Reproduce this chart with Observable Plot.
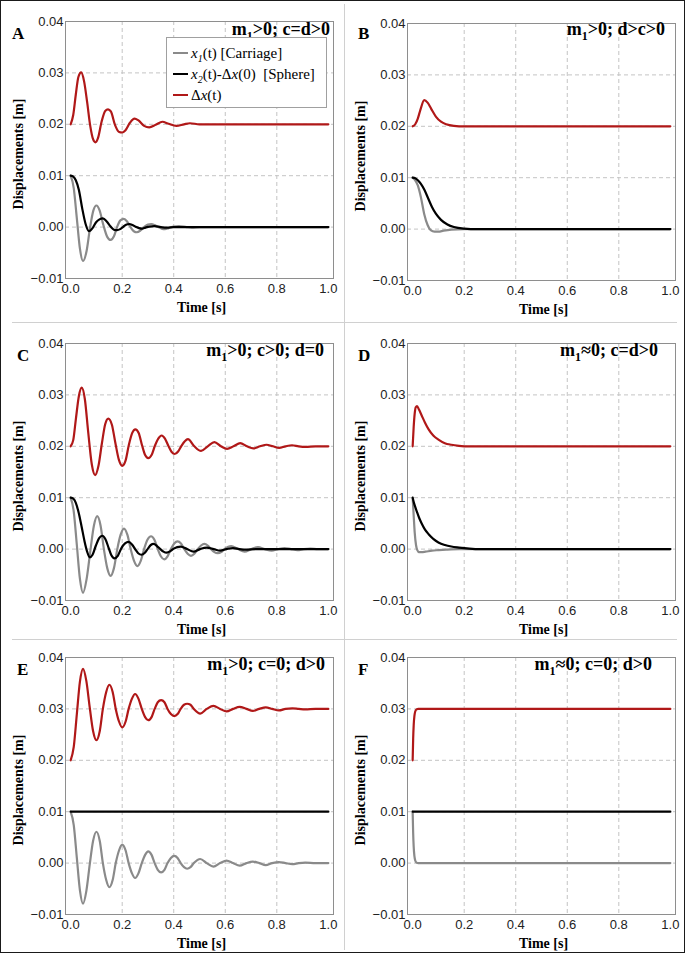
<!DOCTYPE html>
<html><head><meta charset="utf-8">
<script src="https://cdn.jsdelivr.net/npm/d3@7"></script>
<script src="https://cdn.jsdelivr.net/npm/@observablehq/plot@0.6"></script>
<style>
html,body{margin:0;padding:0;background:#fff;}
#page{position:relative;width:685px;height:954px;overflow:hidden;background:#fff;}
.abs{position:absolute;}
.serif{font-family:"Liberation Serif","Times New Roman",serif;}
.letter{font-weight:bold;font-size:17px;line-height:normal;white-space:nowrap;}
.title{font-weight:bold;font-size:18px;line-height:normal;white-space:nowrap;}
.title .sb{font-size:12px;position:relative;top:5px;}
.legend{background:#fff;border:1px solid #a0a0a0;box-sizing:border-box;}
.lrow{position:absolute;left:0;height:0;}
.sw{position:absolute;left:6px;top:-1px;width:15px;height:2.2px;}
.lt{position:absolute;left:24px;top:-10px;line-height:20px;font-size:15px;white-space:nowrap;}
.lt .sb{font-size:10px;font-style:italic;position:relative;top:4px;}
</style></head>
<body><div id="page"></div>
<script>
// ---------- axis values ----------
const xTicks = [0, 0.2, 0.4, 0.6, 0.8, 1.0];
const yTicks = [-0.01, 0, 0.01, 0.02, 0.03, 0.04];
const xGridVals = [0.2, 0.4, 0.6, 0.8];
const yGridVals = [0, 0.01, 0.02, 0.03];
const panelLetters = ["A", "B", "C", "D", "E", "F"];
const titleRest = [">0; c=d>0", ">0; d>c>0", ">0; c>0; d=0", "≈0; c=d>0", ">0; c=0; d>0", "≈0; c=0; d>0"];
const xLabel = "Time [s]";
const yLabel = "Displacements [m]";

// ---------- series: [time s, displacement m] ----------
const A_carriage = [[0,0.01],[0.012,0.0076],[0.024,0.0017],[0.036,-0.0042],[0.048,-0.0066],[0.062,-0.0046],[0.075,-0.0002],[0.088,0.0032],[0.1,0.0042],[0.112,0.0033],[0.127,0.0004],[0.142,-0.0019],[0.155,-0.0025],[0.168,-0.0018],[0.18,0],[0.193,0.0013],[0.206,0.0016],[0.219,0.0011],[0.232,0],[0.245,-0.0008],[0.257,-0.001],[0.27,-0.0007],[0.285,0],[0.3,0.0005],[0.313,0.0006],[0.326,0.0004],[0.34,0],[0.353,-0.0003],[0.366,-0.0004],[0.38,-0.0002],[0.4,0.0001],[0.42,0.0002],[0.45,0],[0.47,-0.0001],[0.5,0],[1,0]];
const A_sphere = [[0,0.01],[0.01,0.0098],[0.02,0.0091],[0.032,0.0072],[0.045,0.0036],[0.058,0.0006],[0.071,-0.0008],[0.085,-0.0002],[0.098,0.0009],[0.112,0.0015],[0.125,0.0017],[0.14,0.0011],[0.155,0.0001],[0.168,-0.0005],[0.18,-0.0006],[0.192,-0.0004],[0.205,0.0001],[0.217,0.0005],[0.228,0.0006],[0.24,0.0004],[0.255,0],[0.265,-0.0002],[0.277,-0.0003],[0.29,-0.0001],[0.305,0.0001],[0.325,0.0002],[0.35,0],[0.375,-0.0001],[0.4,0],[1,0]];
const A_delta = [[0,0.02],[0.01,0.0218],[0.02,0.0258],[0.03,0.0292],[0.041,0.0301],[0.052,0.0284],[0.064,0.0243],[0.076,0.0197],[0.087,0.0171],[0.096,0.0165],[0.106,0.0173],[0.12,0.0205],[0.134,0.0226],[0.145,0.0229],[0.156,0.0225],[0.172,0.0199],[0.188,0.0185],[0.2,0.0184],[0.212,0.0188],[0.23,0.0203],[0.248,0.0211],[0.262,0.0208],[0.285,0.0197],[0.305,0.0194],[0.33,0.0199],[0.356,0.0205],[0.38,0.0201],[0.41,0.0197],[0.44,0.02],[0.463,0.0202],[0.5,0.02],[1,0.02]];

const B_carriage = [[0,0.01],[0.01,0.0095],[0.02,0.0085],[0.032,0.0062],[0.045,0.0029],[0.058,0.0008],[0.07,-0.0002],[0.085,-0.0005],[0.1,-0.0005],[0.12,-0.0003],[0.15,-0.0001],[0.2,0],[1,0]];
const B_sphere = [[0,0.01],[0.01,0.0099],[0.02,0.0095],[0.032,0.0088],[0.045,0.0077],[0.06,0.006],[0.075,0.0043],[0.09,0.003],[0.11,0.0018],[0.135,0.0009],[0.16,0.0004],[0.2,0.0001],[0.25,0],[1,0]];
const B_delta = [[0,0.02],[0.01,0.0204],[0.02,0.0215],[0.03,0.0232],[0.045,0.0251],[0.058,0.0246],[0.072,0.0234],[0.09,0.0219],[0.11,0.0209],[0.13,0.0204],[0.16,0.0201],[0.2,0.02],[1,0.02]];

const C_carriage = [[0,0.01],[0.012,0.0073],[0.024,0.0008],[0.036,-0.0058],[0.048,-0.0085],[0.062,-0.0058],[0.076,-0.0005],[0.09,0.0045],[0.103,0.0064],[0.116,0.0046],[0.129,0],[0.142,-0.0037],[0.155,-0.0052],[0.168,-0.0037],[0.181,0],[0.194,0.0028],[0.207,0.004],[0.22,0.0028],[0.233,0],[0.246,-0.0023],[0.259,-0.0033],[0.272,-0.0023],[0.285,0],[0.298,0.0018],[0.312,0.0025],[0.325,0.0018],[0.338,0],[0.35,-0.0014],[0.363,-0.002],[0.376,-0.0014],[0.389,0],[0.402,0.0011],[0.415,0.0015],[0.428,0.0011],[0.441,0],[0.454,-0.0009],[0.467,-0.0013],[0.48,-0.0009],[0.493,0],[0.506,0.0007],[0.519,0.001],[0.532,0.0007],[0.545,0],[0.558,-0.0006],[0.571,-0.0008],[0.584,-0.0006],[0.597,0],[0.623,0.0006],[0.649,0],[0.675,-0.0005],[0.701,0],[0.727,0.0004],[0.753,0],[0.78,-0.0003],[0.805,0],[0.83,0.0002],[0.855,0],[0.88,-0.0002],[0.905,0],[0.93,0.0001],[0.96,0],[1,0]];
const C_sphere = [[0,0.01],[0.01,0.0098],[0.02,0.009],[0.03,0.0073],[0.042,0.0045],[0.054,0.0015],[0.064,-0.0005],[0.074,-0.0016],[0.085,-0.0011],[0.098,0.0007],[0.11,0.0021],[0.123,0.0026],[0.135,0.0019],[0.147,0.0003],[0.158,-0.0012],[0.17,-0.0018],[0.183,-0.0013],[0.197,0.0002],[0.211,0.0011],[0.225,0.0014],[0.238,0.0009],[0.25,0],[0.262,-0.0008],[0.275,-0.0011],[0.288,-0.0007],[0.3,0.0001],[0.311,0.0008],[0.322,0.001],[0.335,0.0006],[0.348,0],[0.36,-0.0005],[0.373,-0.0007],[0.387,-0.0004],[0.4,0.0001],[0.427,0.0005],[0.452,0],[0.477,-0.0005],[0.502,0],[0.528,0.0003],[0.555,0],[0.58,-0.0003],[0.605,0],[0.63,0.0002],[0.655,0],[0.68,-0.0001],[0.72,0],[1,0]];
const C_delta = [[0,0.02],[0.01,0.0212],[0.02,0.0252],[0.032,0.0298],[0.043,0.0314],[0.055,0.0292],[0.068,0.0228],[0.082,0.0165],[0.095,0.0144],[0.108,0.0162],[0.121,0.0205],[0.134,0.0243],[0.146,0.0254],[0.16,0.0242],[0.173,0.0208],[0.187,0.0174],[0.2,0.0162],[0.213,0.0172],[0.226,0.0203],[0.239,0.0226],[0.251,0.0233],[0.264,0.0226],[0.277,0.0202],[0.289,0.0183],[0.301,0.0177],[0.314,0.0183],[0.327,0.0201],[0.34,0.0215],[0.353,0.0221],[0.366,0.0215],[0.379,0.0201],[0.392,0.0189],[0.404,0.0185],[0.417,0.019],[0.43,0.0201],[0.443,0.021],[0.455,0.0214],[0.48,0.02],[0.506,0.0191],[0.532,0.02],[0.558,0.0208],[0.583,0.02],[0.607,0.0195],[0.632,0.02],[0.658,0.0206],[0.684,0.02],[0.709,0.0196],[0.735,0.02],[0.76,0.0203],[0.785,0.02],[0.809,0.0197],[0.834,0.02],[0.859,0.0202],[0.885,0.02],[0.912,0.0199],[0.95,0.02],[1,0.02]];

const D_carriage = [[0,0.01],[0.004,0.0065],[0.008,0.0032],[0.013,0.0008],[0.018,-0.0002],[0.025,-0.0006],[0.035,-0.0006],[0.05,-0.0005],[0.075,-0.0003],[0.1,-0.0002],[0.13,-0.0001],[0.18,0],[1,0]];
const D_sphere = [[0,0.01],[0.005,0.009],[0.01,0.0082],[0.017,0.0072],[0.025,0.0061],[0.035,0.005],[0.048,0.0038],[0.062,0.0029],[0.08,0.002],[0.1,0.0013],[0.125,0.0008],[0.15,0.0005],[0.18,0.0003],[0.22,0.0001],[0.26,0],[1,0]];
const D_delta = [[0,0.02],[0.004,0.0238],[0.008,0.0264],[0.012,0.0276],[0.017,0.0278],[0.024,0.0272],[0.035,0.026],[0.048,0.0246],[0.062,0.0233],[0.08,0.0221],[0.1,0.0213],[0.125,0.0206],[0.15,0.0203],[0.18,0.0201],[0.22,0.02],[1,0.02]];

const E_carriage = [[0,0.01],[0.012,0.0074],[0.024,0.001],[0.036,-0.0053],[0.048,-0.0079],[0.061,-0.0054],[0.074,-0.0003],[0.087,0.0043],[0.1,0.0061],[0.113,0.0043],[0.125,0],[0.138,-0.0033],[0.15,-0.0047],[0.163,-0.0033],[0.175,0],[0.188,0.0025],[0.2,0.0036],[0.213,0.0025],[0.225,0],[0.238,-0.002],[0.25,-0.0029],[0.263,-0.002],[0.276,0],[0.289,0.0016],[0.301,0.0023],[0.314,0.0016],[0.326,0],[0.338,-0.0013],[0.351,-0.0018],[0.364,-0.0013],[0.376,0],[0.389,0.001],[0.402,0.0014],[0.415,0.001],[0.427,0],[0.44,-0.0008],[0.452,-0.0011],[0.465,-0.0008],[0.478,0],[0.503,0.0008],[0.528,0],[0.554,-0.0007],[0.58,0],[0.605,0.0005],[0.63,0],[0.656,-0.0005],[0.682,0],[0.707,0.0003],[0.732,0],[0.757,-0.0004],[0.782,0],[0.808,0.0002],[0.834,0],[0.86,-0.0002],[0.885,0],[0.91,0.0001],[0.95,0],[1,0]];
const E_sphere = [[0,0.01],[1,0.01]];
const E_delta = [[0,0.02],[0.012,0.0226],[0.024,0.029],[0.036,0.0353],[0.048,0.0378],[0.061,0.0354],[0.074,0.0303],[0.087,0.0257],[0.1,0.0239],[0.113,0.0257],[0.125,0.03],[0.138,0.0333],[0.15,0.0347],[0.163,0.0333],[0.175,0.03],[0.188,0.0275],[0.2,0.0264],[0.213,0.0275],[0.225,0.03],[0.238,0.032],[0.25,0.0329],[0.263,0.032],[0.276,0.03],[0.289,0.0284],[0.301,0.0278],[0.314,0.0284],[0.326,0.03],[0.338,0.0313],[0.351,0.0317],[0.364,0.0313],[0.376,0.03],[0.389,0.029],[0.402,0.0286],[0.415,0.029],[0.427,0.03],[0.44,0.0308],[0.452,0.031],[0.465,0.0308],[0.478,0.03],[0.503,0.0291],[0.528,0.03],[0.554,0.0306],[0.58,0.03],[0.605,0.0295],[0.63,0.03],[0.656,0.0304],[0.682,0.03],[0.707,0.0296],[0.732,0.03],[0.757,0.0303],[0.782,0.03],[0.808,0.0297],[0.834,0.03],[0.86,0.0301],[0.885,0.03],[0.91,0.0299],[0.95,0.03],[1,0.03]];

const F_carriage = [[0,0.01],[0.002,0.0058],[0.004,0.0032],[0.007,0.0013],[0.01,0.0005],[0.015,0.0001],[0.022,0],[1,0]];
const F_sphere = [[0,0.01],[1,0.01]];
const F_delta = [[0,0.02],[0.002,0.0242],[0.004,0.0268],[0.007,0.0287],[0.01,0.0295],[0.015,0.0299],[0.022,0.03],[1,0.03]];

// ---------- styles ----------
const colCarriage = "#8a8a8a", colSphere = "#000000", colDelta = "#b01818";
const serif = "Liberation Serif, Times New Roman, serif";

const panelSeries = [
  [A_carriage, A_sphere, A_delta],
  [B_carriage, B_sphere, B_delta],
  [C_carriage, C_sphere, C_delta],
  [D_carriage, D_sphere, D_delta],
  [E_carriage, E_sphere, E_delta],
  [F_carriage, F_sphere, F_delta]
];

// layout: svg box + margins, letter pos, title right/baseline
const layout = [
  {left:0,   top:0,   w:345, h:322, ml:65, mr:12, mt:21, mb:44, lx:12,  lb:39.5,  tr:330, tb:34.5},
  {left:345, top:0,   w:340, h:322, ml:62, mr:10, mt:23, mb:42, lx:358, lb:39.5,  tr:665, tb:34.5},
  {left:0,   top:322, w:345, h:317, ml:65, mr:12, mt:21, mb:39, lx:17,  lb:361,   tr:324, tb:355.5},
  {left:345, top:322, w:340, h:317, ml:62, mr:10, mt:21, mb:39, lx:358, lb:361,   tr:658, tb:355.5},
  {left:0,   top:639, w:345, h:315, ml:65, mr:12, mt:18, mb:40, lx:17,  lb:675,   tr:325, tb:669.5},
  {left:345, top:639, w:340, h:315, ml:62, mr:10, mt:18, mb:40, lx:358, lb:675,   tr:652, tb:669.5}
];

const page = document.getElementById("page");
function addDiv(cls, style, html) {
  const d = document.createElement("div");
  d.className = cls; d.setAttribute("style", style); d.innerHTML = html || "";
  page.appendChild(d); return d;
}

// dividers
addDiv("abs", "left:12px;top:322px;width:665px;height:1px;background:#d0d0d0;");
addDiv("abs", "left:12px;top:639px;width:665px;height:1px;background:#d0d0d0;");
addDiv("abs", "left:344px;top:4px;width:1px;height:946px;background:#d0d0d0;");

const fx = d => d[0], fy = d => d[1];
const fmtX = d3.format(".1f"), fmtY = d3.format(".2f");

layout.forEach((L, i) => {
  const [car, sph, del] = panelSeries[i];
  const chart = Plot.plot({
    width: L.w, height: L.h,
    marginLeft: L.ml, marginRight: L.mr, marginTop: L.mt, marginBottom: L.mb,
    x: {domain: [-0.02, 1.02]},
    y: {domain: [-0.01, 0.04]},
    style: {fontFamily: "Liberation Sans, Arial, sans-serif", fontSize: "13px", background: "transparent", overflow: "visible"},
    marks: [
      Plot.gridX(xGridVals, {stroke: "#c4c4c4", strokeOpacity: 1, strokeDasharray: "4,3"}),
      Plot.gridY(yGridVals, {stroke: "#c4c4c4", strokeOpacity: 1, strokeDasharray: "4,3"}),
      Plot.frame({stroke: "#8e8e8e", strokeWidth: 1}),
      Plot.axisX(xTicks, {tickSize: 0, tickPadding: 5, tickFormat: fmtX, label: null, fill: "#222"}),
      Plot.axisY(yTicks, {tickSize: 0, tickPadding: 2, tickFormat: fmtY, label: null, fill: "#222"}),
      Plot.line(car, {x: fx, y: fy, stroke: colCarriage, strokeWidth: 2.2, curve: "monotone-x"}),
      Plot.line(sph, {x: fx, y: fy, stroke: colSphere, strokeWidth: 2.2, curve: "monotone-x"}),
      Plot.line(del, {x: fx, y: fy, stroke: colDelta, strokeWidth: 2.2, curve: "monotone-x"}),
      Plot.text([yLabel], {text: d => d, frameAnchor: "left", rotate: -90, textAnchor: "middle", lineAnchor: "middle", dx: -47, dy: 4, fontFamily: serif, fontWeight: "bold", fontSize: 14, fill: "#000"}),
      Plot.text([xLabel], {text: d => d, frameAnchor: "bottom", textAnchor: "middle", lineAnchor: "middle", dx: 2, dy: 29, fontFamily: serif, fontWeight: "bold", fontSize: 14, fill: "#000"})
    ]
  });
  const holder = addDiv("abs", `left:${L.left}px;top:${L.top}px;width:${L.w}px;height:${L.h}px;`);
  holder.appendChild(chart);
  // panel letter
  addDiv("abs serif letter", `left:${L.lx}px;top:${L.lb - 15.2}px;`, panelLetters[i]);
  // title (right aligned)
  addDiv("abs serif title", `right:${685 - L.tr}px;top:${L.tb - 16}px;`, `m<span class="sb">1</span>${titleRest[i].replace(/>/g, "&gt;")}`);
});

// legend in panel A
const legendRows = [
  {color: colCarriage, html: '<i>x</i><span class="sb">1</span>(t) [Carriage]'},
  {color: colSphere, html: '<i>x</i><span class="sb">2</span>(t)-Δ<i>x</i>(0)&nbsp;&nbsp;[Sphere]'},
  {color: colDelta, html: 'Δ<i>x</i>(t)'}
];
const leg = addDiv("abs legend serif", "left:166px;top:37px;width:161px;height:71px;");
legendRows.forEach((r, k) => {
  const row = document.createElement("div");
  row.className = "lrow";
  row.style.top = (14.5 + k * 21.3) + "px";
  row.innerHTML = `<span class="sw" style="background:${r.color}"></span><span class="lt">${r.html}</span>`;
  leg.appendChild(row);
});

// outer border
addDiv("abs", "left:0;top:0;width:685px;height:953px;border:1.5px solid #1a1a1a;box-sizing:border-box;pointer-events:none;");
</script>
</body></html>
